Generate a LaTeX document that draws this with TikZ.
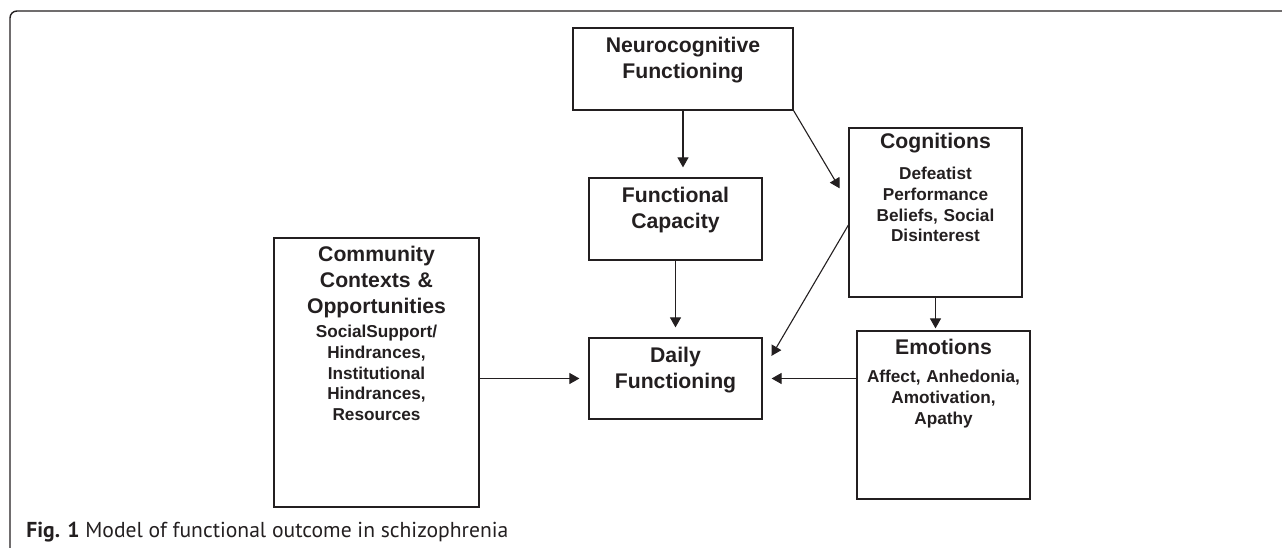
\documentclass[tikz,border=0pt]{standalone}
\usepackage{fontspec}
\setmainfont{Liberation Sans}
\newfontfamily\capfont{PT Sans}
\usetikzlibrary{arrows.meta}
\definecolor{ink}{HTML}{231F20}
\tikzset{
	box/.style={draw=ink, line width=0.6pt, rectangle, inner sep=0pt},
	head/.style={anchor=base, align=center, text=ink, inner sep=0pt, font=\bfseries\fontsize{10.6}{12.8}\selectfont},
	sub/.style={anchor=base, align=center, text=ink, inner sep=0pt, font=\bfseries\fontsize{8.6}{10.3}\selectfont},
	link/.style={draw=ink, line width=0.55pt, -{Triangle[length=5pt,width=5.5pt]}},
}

\begin{document}
\begin{tikzpicture}[x=0.5pt, y=-0.5pt]
			%%%%% START %%%%%
			\useasboundingbox (0, 0) rectangle (1282, 549);
			
			\draw[draw=ink, line width=0.7pt, rounded corners=3.5pt] (1282, 11) -- (10, 11) -- (10, 548);
			
			% boxes
			\node[box, minimum width=110pt, minimum height=41pt] (neuro) at (683, 69) {};
			\node[head, text width=110pt] (neurot) at (683, 53) {Neurocognitive\\Functioning};
			
			\node[box, minimum width=86.5pt, minimum height=41pt] (fc) at (675.5, 219) {};
			\node[head, text width=86.5pt] (fct) at (675.5, 203) {Functional\\Capacity};
			
			\node[box, minimum width=86.5pt, minimum height=84.5pt] (cog) at (935.5, 212.5) {};
			\node[head, text width=86.5pt] (cogt) at (935.5, 149) {Cognitions};
			\node[sub, text width=86.5pt] (cogs) at (935.5, 180) {Defeatist\\Performance\\Beliefs, Social\\Disinterest};
			
			\node[box, minimum width=86.5pt, minimum height=84pt] (emo) at (943.5, 415) {};
			\node[head, text width=86.5pt] (emot) at (943.5, 355) {Emotions};
			\node[sub, text width=86.5pt] (emos) at (943.5, 383) {Affect, Anhedonia,\\Amotivation,\\Apathy};
			
			\node[box, minimum width=86.5pt, minimum height=40.5pt] (daily) at (675.5, 378.5) {};
			\node[head, text width=86.5pt] (dailyt) at (675.5, 363) {Daily\\Functioning};
			
			\node[box, minimum width=102.5pt, minimum height=134.5pt] (comm) at (376.5, 372.5) {};
			\node[head, text width=102.5pt] (commt) at (376.5, 262) {Community\\Contexts \&\\Opportunities};
			\node[sub, text width=102.5pt] (comms) at (376.5, 338) {SocialSupport/\\Hindrances,\\Institutional\\Hindrances,\\Resources};
			
			% arrows
			\draw[link, shorten >=5pt] (neuro.south) -- (neuro.south |- fc.north);
			\draw[link, shorten >=5pt] (fc.south) -- (daily.north);
			\draw[link, shorten >=8.5pt] (neuro.south east) -- ([yshift=4.75pt]cog.west);
			\draw[link, shorten >=8.75pt] ([yshift=-6.25pt]cog.west) -- ([yshift=3.75pt]daily.east);
			\draw[link, shorten >=1pt] (cog.south) -- (cog.south |- emo.north);
			\draw[link, shorten >=4.5pt] (daily.east -| emo.west) -- (daily.east);
			\draw[link, shorten >=4.5pt] (daily.west -| comm.east) -- (daily.west);
			
			% caption
			\node[anchor=base west, inner sep=0pt, text=ink, font=\capfont\fontsize{10.8}{13}\selectfont] (cap) at (26, 538) {\textbf{Fig. 1} Model of functional outcome in schizophrenia};
			
			%%%%% END %%%%%
\end{tikzpicture}
\end{document}
